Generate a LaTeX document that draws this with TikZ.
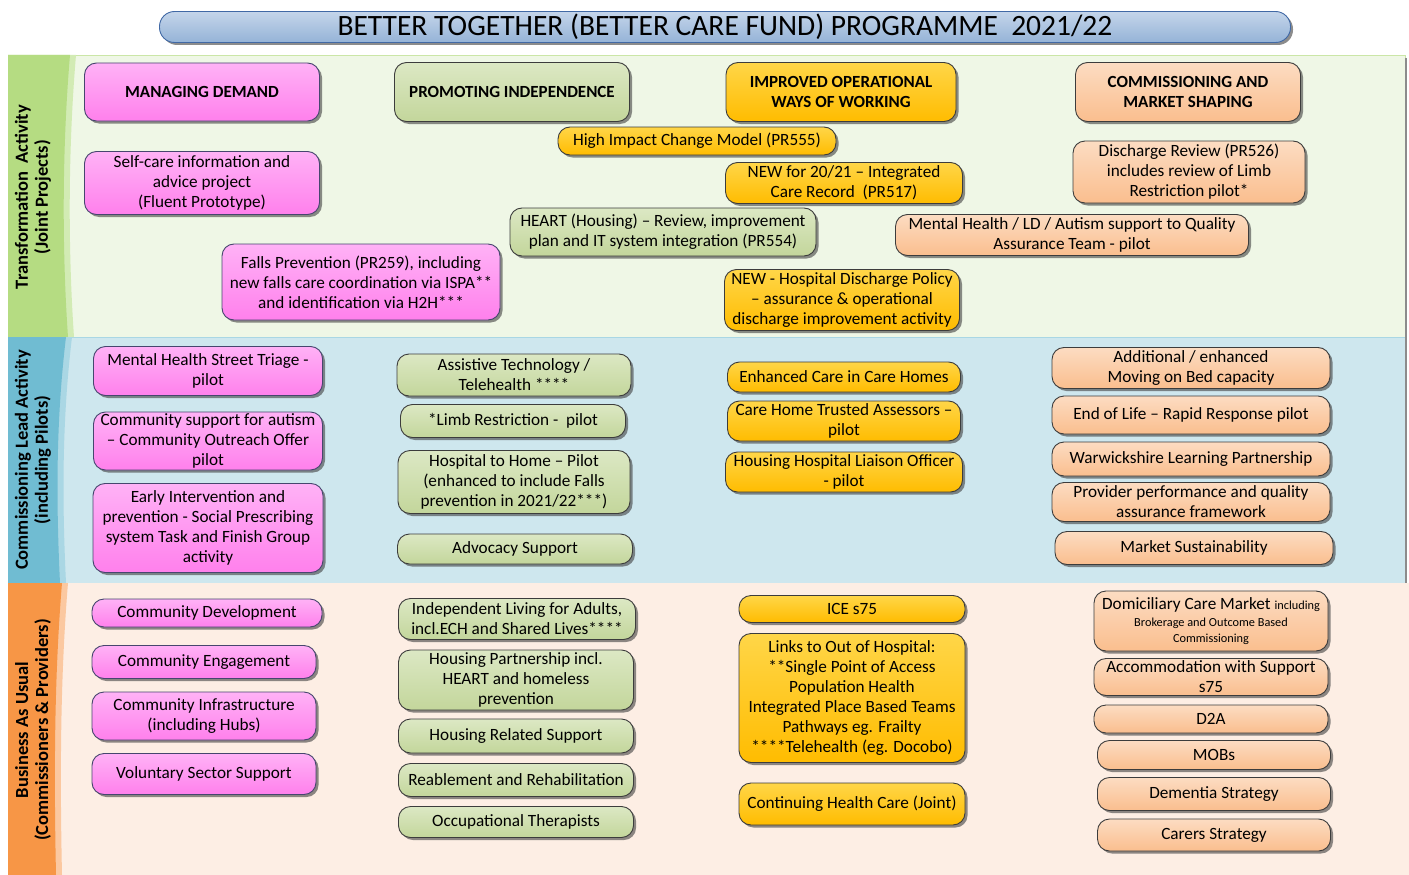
\documentclass[tikz,border=0pt]{standalone}
\usepackage{fontspec}
\setmainfont{Carlito}
\usetikzlibrary{shadows}

\definecolor{boxline}{RGB}{60,60,60}
\definecolor{pinkline}{RGB}{70,70,110}
\definecolor{pinktop}{RGB}{255,178,246}
\definecolor{pinkbot}{RGB}{255,128,236}
\definecolor{greentop}{RGB}{220,232,196}
\definecolor{greenbot}{RGB}{195,214,155}
\definecolor{yellowtop}{RGB}{255,214,72}
\definecolor{yellowbot}{RGB}{255,188,0}
\definecolor{peachtop}{RGB}{252,220,194}
\definecolor{peachbot}{RGB}{250,190,142}
\definecolor{titletop}{RGB}{196,213,234}
\definecolor{titlebot}{RGB}{149,179,215}
\definecolor{titleline}{RGB}{65,105,165}
\definecolor{transbg}{RGB}{239,247,230}
\definecolor{transstrip}{RGB}{181,220,130}
\definecolor{transedge}{RGB}{210,235,180}
\definecolor{commbg}{RGB}{206,231,238}
\definecolor{commstrip}{RGB}{112,188,210}
\definecolor{commedge}{RGB}{170,215,228}
\definecolor{busbg}{RGB}{253,238,228}
\definecolor{busstrip}{RGB}{247,150,70}
\definecolor{busedge}{RGB}{251,200,160}

\newcommand\boxtext{\fontsize{17.2}{20}\selectfont}
\newcommand\headtext{\fontsize{17}{20}\selectfont\bfseries}
\newcommand\sidetext{\fontsize{18.5}{20}\selectfont\bfseries}
\newcommand\smalltext{\fontsize{12.3}{14}\selectfont}

\begin{document}
\begin{tikzpicture}[
        x=1pt, y=1pt,
        box/.style={
            rounded corners=12pt,
            draw=boxline,
            line width=0.9pt,
            align=center,
            inner sep=1pt,
            font=\boxtext,
            drop shadow={shadow xshift=2.5pt, shadow yshift=-2.5pt, opacity=0.6, fill=black!75}
        },
        sz/.style 2 args={minimum width=#1pt, minimum height=#2pt},
        pink box/.style={box, top color=pinktop, bottom color=pinkbot, draw=pinkline},
        green box/.style={box, top color=greentop, bottom color=greenbot},
        yellow box/.style={box, top color=yellowtop, bottom color=yellowbot},
        peach box/.style={box, top color=peachtop, bottom color=peachbot},
        side/.style={rotate=90, font=\sidetext, align=center}
    ]
    \useasboundingbox (0,0) rectangle (1409,-875);

    % bands
    \fill[transbg, draw=transstrip!70] (8,-55) rectangle (1405,-337);
    \fill[commbg, draw=commstrip!60] (8,-337) rectangle (1405,-583);
    \fill[busbg] (8,-583) rectangle (1409,-875);
    \draw[black!45, line width=1.2pt] (1406,-58) -- (1406,-583);

    \fill[transedge] (8,-55) -- (76,-55) .. controls (68,-150) and (68,-250) .. (74,-337) -- (8,-337) -- cycle;
    \fill[transstrip] (8,-55) -- (70,-55) .. controls (62,-150) and (62,-250) .. (68,-337) -- (8,-337) -- cycle;
    \fill[commedge] (8,-337) -- (72,-337) .. controls (62,-420) and (62,-500) .. (66,-583) -- (8,-583) -- cycle;
    \fill[commstrip] (8,-337) -- (66,-337) .. controls (56,-420) and (56,-500) .. (60,-583) -- (8,-583) -- cycle;
    \fill[busedge] (8,-583) -- (68,-583) .. controls (60,-680) and (60,-780) .. (62,-875) -- (8,-875) -- cycle;
    \fill[busstrip] (8,-583) -- (62,-583) .. controls (54,-680) and (54,-780) .. (56,-875) -- (8,-875) -- cycle;

    \node[side] (sidetrans) at (33,-197) {Transformation\ \ Activity\\(Joint Projects)};
    \node[side] (sidecomm) at (33,-460) {Commissioning Lead Activity\\(including Pilots)};
    \node[side] (sidebus) at (33,-730) {Business As Usual\\(Commissioners \& Providers)};

    % title
    \node[box, rounded corners=15pt, sz={1131}{31}, top color=titletop, bottom color=titlebot,
        draw=titleline, font=\fontsize{29.5}{30}\selectfont] (title) at (725,-27)
        {BETTER TOGETHER (BETTER CARE FUND) PROGRAMME\ \ 2021/22};

    % transformation activity
    \node[pink box, sz={235}{58}, font=\headtext] (mandemand) at (202,-92) {MANAGING DEMAND};
    \node[green box, sz={235}{59}, font=\headtext] (promindep) at (512,-92) {PROMOTING INDEPENDENCE};
    \node[yellow box, sz={230}{59}, font=\headtext] (improved) at (841,-92) {IMPROVED OPERATIONAL\\WAYS OF WORKING};
    \node[peach box, sz={225}{59}, font=\headtext] (commmarket) at (1188,-92) {COMMISSIONING AND\\MARKET SHAPING};

    \node[pink box, sz={235}{63}] (selfcare) at (202,-183) {Self-care information and\\advice project\\(Fluent Prototype)};
    \node[pink box, sz={278}{76}] (falls) at (361,-282) {Falls Prevention (PR259), including\\new falls care coordination via ISPA**\\and identification via H2H***};
    \node[yellow box, sz={278}{28}] (highimpact) at (697,-141) {High Impact Change Model (PR555)};
    \node[yellow box, sz={237}{41}] (carerecord) at (844,-183) {NEW for 20/21 -- Integrated\\Care Record\ \ (PR517)};
    \node[green box, sz={306}{48}] (heart) at (663,-232) {HEART (Housing) -- Review, improvement\\plan and IT system integration (PR554)};
    \node[yellow box, sz={235}{61}] (dischpolicy) at (842,-300) {NEW - Hospital Discharge Policy\\-- assurance \& operational\\discharge improvement activity};
    \node[peach box, sz={232}{62}] (dischreview) at (1189,-172) {Discharge Review (PR526)\\includes review of Limb\\Restriction pilot*};
    \node[peach box, sz={353}{41}] (mhquality) at (1072,-235) {Mental Health / LD / Autism support to Quality\\Assurance Team - pilot};

    % commissioning lead activity
    \node[pink box, sz={229}{49}] (triage) at (208,-371) {Mental Health Street Triage -\\pilot};
    \node[pink box, sz={229}{58}] (autism) at (208,-441) {Community support for autism\\-- Community Outreach Offer\\pilot};
    \node[pink box, sz={230}{89}] (earlyint) at (208,-528) {Early Intervention and\\prevention - Social Prescribing\\system Task and Finish Group\\activity};
    \node[green box, sz={234}{42}] (assistive) at (514,-375) {Assistive Technology /\\Telehealth ****};
    \node[green box, sz={225}{33}] (limb) at (513,-421) {*Limb Restriction -\ \ pilot};
    \node[green box, sz={232}{63}] (hosphome) at (514,-482) {Hospital to Home -- Pilot\\(enhanced to include Falls\\prevention in 2021/22***)};
    \node[green box, sz={235}{30}] (advocacy) at (515,-549) {Advocacy Support};
    \node[yellow box, sz={233}{30}] (enhcare) at (844,-377) {Enhanced Care in Care Homes};
    \node[yellow box, sz={233}{40}] (trusted) at (844,-421) {Care Home Trusted Assessors --\\pilot};
    \node[yellow box, sz={237}{40}] (liaison) at (844,-472) {Housing Hospital Liaison Officer\\- pilot};
    \node[peach box, sz={278}{41}] (movingbed) at (1191,-368) {Additional / enhanced\\Moving on Bed capacity};
    \node[peach box, sz={278}{38}] (endoflife) at (1191,-415) {End of Life -- Rapid Response pilot};
    \node[peach box, sz={278}{34}] (learning) at (1191,-459) {Warwickshire Learning Partnership};
    \node[peach box, sz={278}{39}] (provider) at (1191,-502) {Provider performance and quality\\assurance framework};
    \node[peach box, sz={278}{33}] (sustain) at (1194,-548) {Market Sustainability};

    % business as usual
    \node[pink box, sz={230}{28}] (commdev) at (207,-613) {Community Development};
    \node[pink box, sz={224}{33}] (commeng) at (204,-662) {Community Engagement};
    \node[pink box, sz={224}{48}] (comminfra) at (204,-716) {Community Infrastructure\\(including Hubs)};
    \node[pink box, sz={224}{41}] (voluntary) at (204,-774) {Voluntary Sector Support};
    \node[green box, sz={237}{41}] (indliving) at (517,-619) {Independent Living for Adults,\\incl.ECH and Shared Lives****};
    \node[green box, sz={235}{60}] (housepart) at (516,-680) {Housing Partnership incl.\\HEART and homeless\\prevention};
    \node[green box, sz={235}{34}] (housesupp) at (516,-736) {Housing Related Support};
    \node[green box, sz={235}{33}] (reable) at (516,-780) {Reablement and Rehabilitation};
    \node[green box, sz={235}{31}] (occther) at (516,-822) {Occupational Therapists};
    \node[yellow box, sz={226}{27}] (ice) at (852,-609) {ICE s75};
    \node[yellow box, sz={226}{129}] (outofhosp) at (852,-698) {Links to Out of Hospital:\\**Single Point of Access\\Population Health\\Integrated Place Based Teams\\Pathways eg. Frailty\\****Telehealth (eg. Docobo)};
    \node[yellow box, sz={226}{42}] (chc) at (852,-804) {Continuing Health Care (Joint)};
    \node[peach box, sz={234}{60}] (domcare) at (1211,-621) {Domiciliary Care Market {\smalltext including}\\[-3pt]{\smalltext Brokerage and Outcome Based}\\[-4pt]{\smalltext Commissioning}};
    \node[peach box, sz={234}{37}] (accomm) at (1211,-677) {Accommodation with Support\\s75};
    \node[peach box, sz={234}{28}] (dtoa) at (1211,-719) {D2A};
    \node[peach box, sz={233}{29}] (mobs) at (1214,-755) {MOBs};
    \node[peach box, sz={233}{33}] (dementia) at (1214,-794) {Dementia Strategy};
    \node[peach box, sz={233}{32}] (carers) at (1214,-835) {Carers Strategy};
\end{tikzpicture}
\end{document}
